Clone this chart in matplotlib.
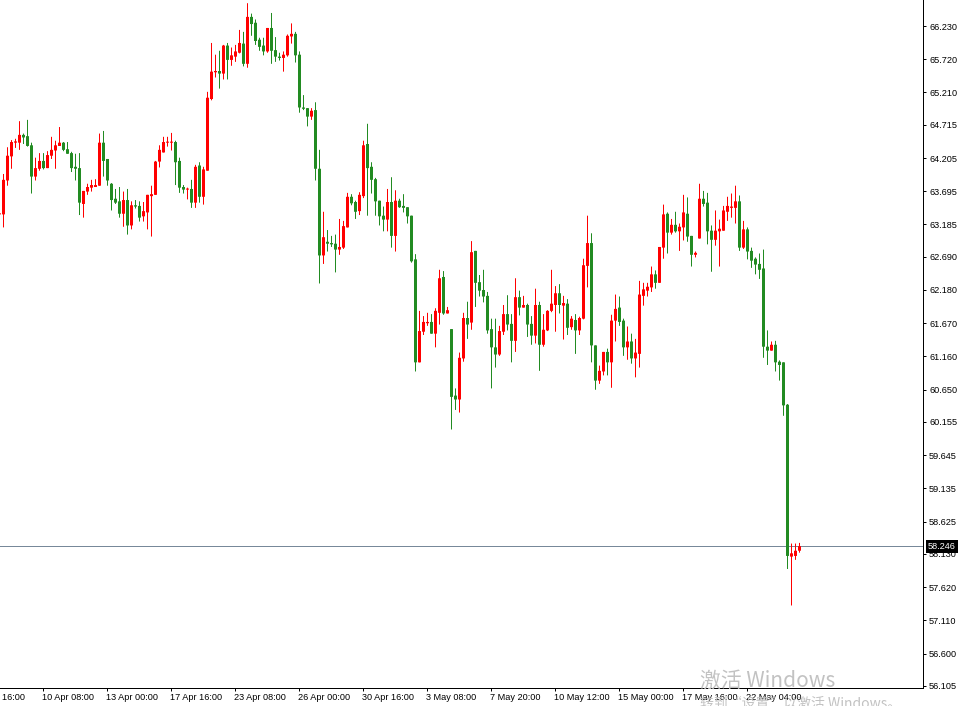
import matplotlib
matplotlib.use("Agg")
import matplotlib.pyplot as plt

# H4 candles, first one is the half-hidden bar at the left edge
opens = [63.34, 63.34, 63.86, 64.23, 64.44, 64.44, 64.56, 64.54, 64.40, 63.92,
         64.04, 64.16, 64.05, 64.24, 64.32, 64.39, 64.44, 64.34, 64.28, 64.07,
         64.05, 63.50, 63.69, 63.75, 63.76, 63.78, 64.44, 64.19, 63.81, 63.58,
         63.54, 63.35, 63.56, 63.17, 63.48, 63.47, 63.31, 63.37, 63.62, 63.64,
         64.15, 64.29, 64.44, 64.44, 64.45, 64.16, 63.76, 63.72, 63.73, 63.52,
         64.09, 63.61, 64.01, 65.11, 65.52, 65.54, 65.50, 65.93, 65.71, 65.76,
         65.82, 65.96, 65.65, 66.37, 66.28, 66.02, 65.93, 65.84, 66.20, 65.86,
         65.76, 65.74, 65.78, 66.07, 66.11, 65.79, 64.98, 64.97, 64.84, 64.94,
         64.04, 62.71, 62.92, 62.90, 62.89, 62.80, 62.83, 63.14, 63.61, 63.53,
         63.39, 63.62, 64.42, 64.07, 63.88, 63.55, 63.32, 63.26, 63.53, 63.01,
         63.55, 63.47, 63.45, 63.32, 62.65, 61.07, 61.54, 61.67, 61.69, 61.51,
         61.83, 62.38, 61.82, 61.58, 60.56, 60.50, 61.13, 61.75, 61.68, 62.78,
         62.30, 62.18, 62.09, 61.58, 61.30, 61.19, 61.54, 61.81, 61.66, 61.40,
         62.07, 61.91, 61.95, 61.66, 61.48, 61.95, 61.34, 61.56, 61.86, 61.95,
         62.13, 61.94, 61.97, 61.61, 61.72, 61.56, 61.74, 62.55, 62.90, 61.33,
         60.79, 60.93, 61.23, 61.07, 61.71, 61.91, 61.71, 61.30, 61.39, 61.13,
         61.20, 62.09, 62.17, 62.22, 62.42, 62.29, 62.83, 63.35, 63.06, 63.18,
         63.08, 63.14, 63.35, 63.01, 62.72, 62.97, 63.58, 63.52, 63.09, 62.95,
         63.08, 63.09, 63.38, 63.44, 63.44, 63.54, 62.83, 63.11, 62.78, 62.66,
         62.58, 62.51, 61.31, 61.25, 61.34, 61.08, 61.07, 60.42, 58.09, 58.10,
         58.18]
highs = [63.36, 63.96, 64.37, 64.48, 64.50, 64.77, 64.58, 64.79, 64.44, 64.21,
         64.28, 64.28, 64.31, 64.53, 64.47, 64.68, 64.45, 64.45, 64.30, 64.27,
         64.28, 63.70, 63.81, 63.87, 63.88, 64.58, 64.62, 64.19, 63.82, 63.73,
         63.76, 63.69, 63.73, 63.54, 63.56, 63.54, 63.53, 63.64, 63.78, 64.16,
         64.40, 64.53, 64.53, 64.59, 64.47, 64.21, 63.79, 63.75, 63.87, 64.10,
         64.14, 64.07, 65.22, 65.97, 65.79, 65.85, 65.94, 65.97, 65.90, 65.94,
         66.17, 66.14, 66.58, 66.42, 66.33, 66.05, 66.05, 66.20, 66.43, 66.06,
         65.82, 65.84, 66.10, 66.27, 66.14, 65.84, 65.17, 64.97, 64.97, 65.06,
         64.33, 63.38, 63.10, 63.01, 63.03, 63.27, 63.24, 63.67, 63.65, 63.55,
         63.68, 64.47, 64.73, 64.14, 63.90, 63.55, 63.46, 63.73, 63.91, 63.71,
         63.58, 63.65, 63.45, 63.32, 62.73, 61.86, 61.78, 61.83, 61.81, 61.90,
         62.49, 62.47, 61.92, 61.58, 60.67, 61.22, 61.83, 62.00, 62.93, 62.78,
         62.41, 62.49, 62.15, 61.74, 61.74, 61.63, 61.95, 62.10, 61.81, 62.36,
         62.17, 62.09, 61.97, 61.78, 62.20, 62.00, 61.81, 61.87, 62.49, 62.24,
         62.27, 62.09, 62.04, 61.78, 61.81, 61.77, 62.66, 63.32, 63.05, 61.33,
         61.02, 61.23, 61.28, 61.80, 62.11, 62.08, 61.74, 61.62, 61.51, 61.43,
         62.32, 62.29, 62.29, 62.54, 62.48, 62.84, 63.49, 63.37, 63.27, 63.38,
         63.20, 63.64, 63.60, 63.01, 62.77, 63.81, 63.70, 63.67, 63.17, 63.40,
         63.26, 63.47, 63.61, 63.66, 63.78, 63.63, 63.24, 63.14, 62.83, 62.68,
         62.74, 62.80, 61.56, 61.39, 61.40, 61.10, 61.07, 60.43, 58.29, 58.29,
         58.30]
lows = [63.32, 63.14, 63.78, 64.04, 64.36, 64.33, 64.42, 64.38, 63.66, 63.86,
        64.01, 64.03, 64.05, 64.19, 64.04, 64.39, 64.31, 64.27, 63.99, 63.86,
        63.33, 63.29, 63.64, 63.69, 63.76, 63.78, 63.92, 63.78, 63.40, 63.50,
        63.29, 63.15, 63.03, 63.11, 63.43, 63.23, 63.23, 63.11, 63.00, 63.64,
        64.06, 64.29, 64.38, 64.32, 63.79, 63.67, 63.66, 63.57, 63.44, 63.44,
        63.52, 63.49, 64.01, 65.09, 65.44, 65.27, 65.41, 65.41, 65.62, 65.68,
        65.81, 65.61, 65.59, 66.08, 65.94, 65.85, 65.78, 65.82, 65.65, 65.68,
        65.70, 65.53, 65.76, 65.96, 65.67, 64.90, 64.94, 64.69, 64.79, 63.86,
        62.28, 62.58, 62.77, 62.84, 62.45, 62.72, 62.81, 63.14, 63.48, 63.27,
        63.33, 63.59, 63.32, 63.66, 63.32, 63.17, 63.08, 63.08, 62.83, 62.77,
        63.44, 63.37, 63.20, 62.60, 60.93, 61.07, 61.49, 61.63, 61.51, 61.30,
        61.65, 61.80, 61.82, 60.04, 60.34, 60.30, 61.08, 61.43, 61.57, 61.92,
        62.08, 61.99, 61.51, 60.67, 60.99, 61.17, 61.49, 61.56, 61.07, 61.23,
        61.79, 61.91, 61.46, 61.34, 61.36, 60.94, 61.31, 61.55, 61.84, 61.54,
        61.82, 61.42, 61.49, 61.57, 61.20, 61.49, 61.73, 62.22, 61.07, 60.65,
        60.74, 60.87, 60.87, 60.68, 61.39, 61.63, 61.17, 61.11, 61.05, 60.84,
        60.99, 61.94, 62.08, 62.15, 62.20, 62.29, 62.66, 62.74, 63.03, 63.06,
        62.78, 62.94, 62.92, 62.54, 62.68, 62.97, 63.46, 62.88, 62.46, 62.86,
        62.54, 63.09, 63.24, 63.29, 63.20, 62.78, 62.81, 62.65, 62.52, 62.42,
        62.35, 61.14, 61.03, 61.25, 60.93, 60.79, 60.25, 57.90, 57.34, 58.04,
        58.15]
closes = [63.34, 63.87, 64.24, 64.45, 64.46, 64.56, 64.52, 64.39, 63.92, 64.05,
          64.16, 64.05, 64.25, 64.33, 64.40, 64.44, 64.33, 64.27, 64.05, 64.04,
          63.52, 63.70, 63.76, 63.79, 63.79, 64.44, 64.16, 63.86, 63.56, 63.52,
          63.35, 63.56, 63.17, 63.48, 63.46, 63.29, 63.39, 63.64, 63.65, 64.15,
          64.33, 64.45, 64.45, 64.45, 64.14, 63.75, 63.72, 63.73, 63.52, 64.07,
          63.61, 64.03, 65.13, 65.53, 65.54, 65.50, 65.93, 65.71, 65.78, 65.84,
          65.97, 65.65, 66.37, 66.26, 66.00, 65.91, 65.84, 66.20, 65.85, 65.76,
          65.74, 65.79, 66.08, 66.11, 65.78, 64.98, 64.96, 64.84, 64.93, 64.04,
          62.71, 62.99, 62.89, 62.88, 62.80, 62.84, 63.16, 63.61, 63.51, 63.38,
          63.64, 64.40, 64.05, 63.87, 63.54, 63.31, 63.26, 63.53, 63.01, 63.55,
          63.45, 63.44, 63.31, 62.62, 61.07, 61.55, 61.69, 61.69, 61.51, 61.86,
          62.36, 61.82, 61.87, 60.54, 60.50, 61.14, 61.75, 61.65, 62.76, 62.29,
          62.17, 62.08, 61.56, 61.30, 61.19, 61.55, 61.81, 61.65, 61.40, 62.07,
          61.91, 61.95, 61.65, 61.48, 61.95, 61.34, 61.57, 61.86, 61.97, 62.13,
          61.95, 61.98, 61.60, 61.74, 61.56, 61.75, 62.56, 62.90, 61.33, 60.79,
          60.94, 61.23, 61.07, 61.71, 61.89, 61.69, 61.30, 61.39, 61.13, 61.22,
          62.11, 62.19, 62.23, 62.42, 62.29, 62.84, 63.34, 63.06, 63.18, 63.08,
          63.15, 63.37, 63.00, 62.72, 62.75, 63.58, 63.50, 63.08, 62.95, 63.09,
          63.12, 63.40, 63.47, 63.46, 63.54, 62.83, 63.11, 62.77, 62.63, 62.57,
          62.49, 61.31, 61.25, 61.34, 61.07, 61.03, 60.41, 58.10, 58.14, 58.18,
          58.25]

price_ticks = [66.230, 65.720, 65.210, 64.715, 64.205, 63.695, 63.185, 62.690,
               62.180, 61.670, 61.160, 60.650, 60.155, 59.645, 59.135, 58.625,
               58.130, 57.620, 57.110, 56.600, 56.105]
bid = 58.246

# bar index (0 = first full candle) where each time label sits
time_pos = [-6, 10, 26, 42, 58, 74, 90, 106, 122, 138, 154, 170, 186]
time_labels = ["5 Apr 16:00", "10 Apr 08:00", "13 Apr 00:00", "17 Apr 16:00",
               "23 Apr 08:00", "26 Apr 00:00", "30 Apr 16:00", "3 May 08:00",
               "7 May 20:00", "10 May 12:00", "15 May 00:00", "17 May 16:00",
               "22 May 04:00"]

UP = "#FF0000"
DOWN = "#228B22"
px = 72 / 100  # one pixel in points
lab_font = ["Liberation Sans", "DejaVu Sans"]
lab_size = 6.6

fig = plt.figure(figsize=(9.63, 7.06), dpi=100)
ax = fig.add_axes([0, 18 / 706, 923 / 963, 688 / 706])

xs = list(range(-1, len(opens) - 1))
cols = [UP if c >= o else DOWN for o, c in zip(opens, closes)]
bottoms = [min(o, c) for o, c in zip(opens, closes)]
heights = [max(abs(c - o), 0.016) for o, c in zip(opens, closes)]

# 4 px per bar: 1 px wick, 3 px body, both sitting on whole pixels
ax.vlines(xs, lows, highs, colors=cols, linewidth=px, snap=False, zorder=2)
ax.bar(xs, heights, bottom=bottoms, width=0.75, color=cols, linewidth=0,
       snap=False, zorder=3)

ax.axhline(bid, color="#778899", linewidth=px, zorder=1)

ax.set_xlim(-0.875, 229.875)
ax.set_ylim(56.074, 66.629)

for s in ["top", "left"]:
    ax.spines[s].set_visible(False)
for s in ["right", "bottom"]:
    ax.spines[s].set_color("black")
    ax.spines[s].set_linewidth(px)

ax.yaxis.tick_right()
ax.set_yticks(price_ticks)
ax.set_yticklabels(["%.3f" % v for v in price_ticks], family=lab_font)
ax.tick_params(axis="y", direction="out", length=3 * px, width=px, pad=3 * px,
               labelsize=lab_size, colors="black")

ax.set_xticks([p - 0.125 for p in time_pos if p >= 0])
ax.set_xticklabels([])
ax.tick_params(axis="x", direction="out", length=3 * px, width=px)

for p, lab in zip(time_pos, time_labels):
    ax.text(p - 0.25, -5 / 688, lab, transform=ax.get_xaxis_transform(),
            ha="left", va="top", fontsize=lab_size, family=lab_font,
            color="black", clip_on=False)

ax.annotate("%.3f" % bid, xy=(1, bid), xycoords=("axes fraction", "data"),
            xytext=(5 * px, 0), textcoords="offset points", ha="left",
            va="center", fontsize=lab_size, family=lab_font, color="white",
            zorder=10,
            bbox=dict(boxstyle="square,pad=0.25", fc="black", ec="none"))

# windows activation watermark sitting on top of the screenshot
cjk = ["Noto Sans CJK SC", "DejaVu Sans"]
fig.text(700 / 963, 1 - 681 / 706, "激活 Windows", fontsize=15, color="#c2c2c2",
         ha="left", va="center", family=cjk, zorder=20)
fig.text(700 / 963, 1 - 697 / 706, "转到“设置”以激活 Windows。", fontsize=10,
         color="#c2c2c2", ha="left", va="top", family=cjk, zorder=20)

fig.savefig("out.png", dpi=100)
